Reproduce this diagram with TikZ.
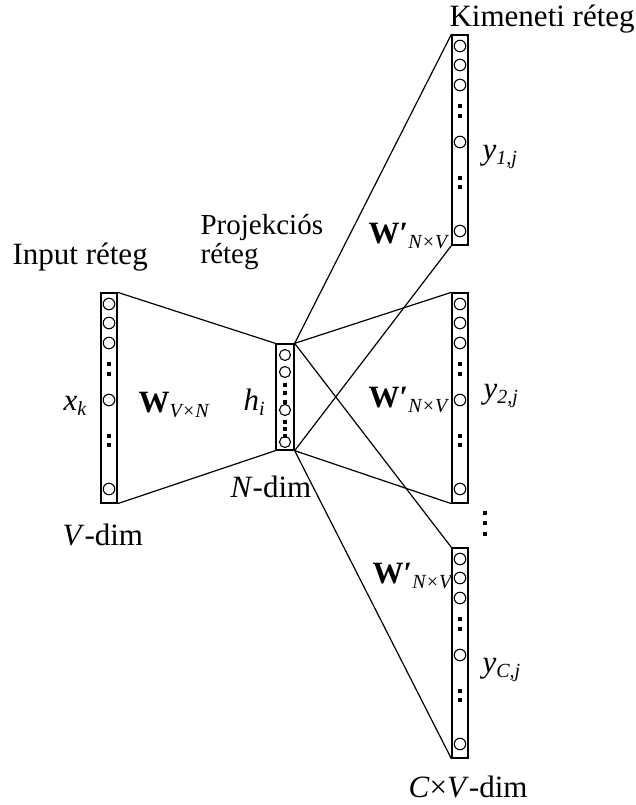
\documentclass[tikz,border=0pt]{standalone}
\usepackage{fontspec}
\setmainfont{Liberation Serif}
\newcommand{\sbs}[1]{\raisebox{-5pt}{\fontsize{20}{20}\selectfont\itshape #1}}
\newcommand{\wprime}{\textbf{W′}}

\begin{document}
\begin{tikzpicture}[x=1pt,y=-1pt,line width=1.2pt,
  layer/.style={draw,rectangle,inner sep=0pt,minimum width=16pt,minimum height=210pt,line width=1.3pt},
  unit/.style={draw,circle,inner sep=0pt,minimum size=11.5pt,line width=1.1pt},
  lbl/.style={font=\fontsize{31}{31}\selectfont,inner sep=0pt,anchor=base west}]
\useasboundingbox (0,0) rectangle (635,805);
% Input-, es kimeneti retegek: egyforma oszlopok.
\foreach \n/\cx/\ty in {in/109/293, out1/460/35, out2/460/293, out3/460/548} {
  \node[layer] (\n) at (\cx,\ty+105) {};
  \foreach \o in {11,30,50,107,196}
    \node[unit] at (\cx,\ty+\o) {};
  \foreach \o in {71,81,143,152}
    \fill (\cx-1.8,\ty+\o-1.8) rectangle ++(3.6,3.6);
}
% Projekcios reteg.
\node[layer,minimum width=18pt,minimum height=106pt] (hid) at (285,397) {};
\foreach \o in {355,372,410,442}
  \node[unit,minimum size=11pt] at (285,\o) {};
\foreach \o in {385,393,402,422,429,436}
  \fill (285-1.6,\o-1.6) rectangle ++(3.2,3.2);
% Kapcsolatok.
\draw (in.north east) -- (hid.north west);
\draw (in.south east) -- (hid.south west);
\foreach \o in {out1,out2,out3} {
  \draw (hid.north east) -- (\o.north west);
  \draw (hid.south east) -- (\o.south west);
}
\foreach \y in {513,523,534}
  \fill (485-2,\y-2) rectangle ++(4,4);
% Feliratok.
\node[lbl] (kim) at (449,27) {Kimeneti réteg};
\node[lbl] (inp) at (12,264) {Input réteg};
\node[lbl,font=\fontsize{29}{29}\selectfont] (proj1) at (200,234) {Projekciós};
\node[lbl,font=\fontsize{29}{29}\selectfont] (proj2) at (200,263) {réteg};
\node[lbl] (xk) at (63,410) {\textit{x}\sbs{k}};
\node[lbl] (win) at (138,412) {\textbf{W}\sbs{V×N}};
\node[lbl] (hi) at (243,410) {\textit{h}\sbs{i}};
\node[lbl] (ndim) at (230,497) {\textit{N}-dim};
\node[lbl] (vdim) at (62,545) {\textit{V}-dim};
\node[lbl] (w1) at (368,243) {\wprime\sbs{N×V}};
\node[lbl] (w2) at (368,407) {\wprime\sbs{N×V}};
\node[lbl] (w3) at (372,583) {\wprime\sbs{N×V}};
\node[lbl] (y1) at (482,160) {\textit{y}\sbs{1,j}};
\node[lbl] (y2) at (483,398) {\textit{y}\sbs{2,j}};
\node[lbl] (yc) at (482,672) {\textit{y}\sbs{C,j}};
\node[lbl] (cvdim) at (408,797) {\textit{C}×\textit{V}-dim};
\end{tikzpicture}
\end{document}
